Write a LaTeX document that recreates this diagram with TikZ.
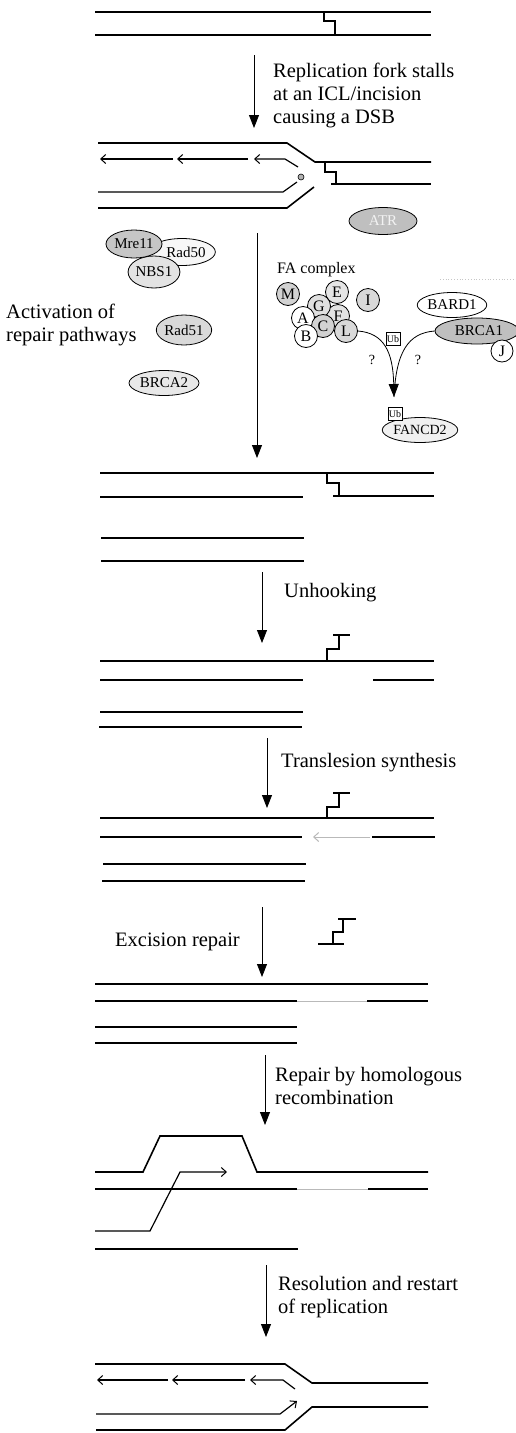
\documentclass[tikz,border=0pt]{standalone}
\usepackage{fontspec}
\setmainfont{Liberation Serif}
\usetikzlibrary{arrows.meta,shapes.geometric}

\tikzset{
  strand/.style={line width=1.6pt},
  thinstrand/.style={line width=1.2pt},
  tls/.style={line width=1pt, gray!55},
  link/.style={line width=1.1pt},
  flow/.style={line width=0.8pt, -{Triangle[length=13pt,width=10pt]}},
  barb/.style={-{Straight Barb[length=5pt,width=9pt,line width=1pt]}},
  caption/.style={font=\fontsize{20.5}{23}\selectfont, align=left, inner sep=0pt},
  prot/.style={ellipse, draw, line width=0.8pt, inner sep=0pt, font=\fontsize{15}{15}\selectfont},
  fa/.style={circle, draw, line width=0.8pt, minimum size=23pt, inner sep=0pt, font=\fontsize{16}{16}\selectfont},
  ub/.style={draw, line width=0.7pt, minimum width=14pt, minimum height=13pt, inner sep=0.5pt, fill=white, font=\fontsize{10}{10}\selectfont},
}

\begin{document}
\begin{tikzpicture}[x=1pt,y=-1pt]
\useasboundingbox (0,0) rectangle (516,1433);

% intact duplex with the crosslink
\draw[strand] (95,12) -- (431,12);
\draw[strand] (95,35) -- (431,35);
\draw[link] (324,12) -- (324,21) -- (335,21) -- (335,35);

\coordinate (s1a) at (254,55); \coordinate (s1b) at (254,128);
\draw[flow] (s1a) -- (s1b);
\node[caption, anchor=west] (t1) at (273,95) {Replication fork stalls\\at an ICL/incision\\causing a DSB};

% stalled fork
\draw[strand] (98,143) -- (287,143) -- (315,162) -- (431,162);
\draw[strand] (331,184) -- (431,184);
\draw[link] (325,162) -- (325,172) -- (336,172) -- (336,184);
\draw[thinstrand,barb] (173,159) -- (100,159);
\draw[thinstrand,barb] (248,159) -- (177,159);
\draw[thinstrand,barb] (298,167) -- (285,159) -- (254,159);
\draw[thinstrand] (98,192) -- (283,192) -- (297,182);
\draw[fill=gray!60, line width=0.6pt] (301,177) circle (3pt);
\draw[strand] (98,208) -- (287,208) -- (314,187);

% sensors and repair factors
\node[prot, fill=gray!50, text=gray!10, minimum width=68pt, minimum height=27pt] (atr) at (383,221) {ATR};
\node[prot, fill=gray!6, minimum width=50pt, minimum height=27pt] (rad50) at (182,252) {\hspace*{8pt}Rad50};
\node[prot, fill=gray!22, minimum width=50pt, minimum height=32pt] (nbs1) at (154,272) {NBS1};
\node[prot, fill=gray!45, minimum width=56pt, minimum height=28pt] (mre11) at (134,244) {Mre11};
\node[prot, fill=gray!30, minimum width=39pt, minimum height=30pt] (rad51) at (184,330) {Rad51};
\node[prot, fill=gray!18, minimum width=70pt, minimum height=25pt] (brca2) at (164,383) {BRCA2};
\node[caption, anchor=west] (t2) at (6,325) {Activation of\\repair pathways};

\coordinate (s2a) at (257,233); \coordinate (s2b) at (257,458);
\draw[flow] (s2a) -- (s2b);

% FA core complex
\node[anchor=west, inner sep=0pt, font=\fontsize{16}{16}\selectfont] (fatxt) at (277,270) {FA complex};
\node[fa, fill=gray!20] (fE) at (337,292) {E};
\node[fa, fill=gray!22] (fF) at (338,316) {F};
\node[fa, fill=gray!25] (fG) at (319,306) {G};
\node[fa, fill=white] (fA) at (303,318) {A};
\node[fa, fill=gray!35] (fC) at (323,326) {C};
\node[fa, fill=white] (fB) at (306,336) {B};
\node[fa, fill=gray!30] (fL) at (346,331) {L};
\node[fa, fill=gray!35] (fM) at (288,294) {M};
\node[fa, fill=gray!30] (fI) at (368,300) {I};
\draw[gray!45, dotted, line width=0.8pt] (440,279) -- (516,279);

\node[prot, fill=white, minimum width=56pt, minimum height=25pt] (bard1) at (452,305) {BARD1};
\node[prot, fill=gray!50, minimum width=84pt, minimum height=26pt] (brca1) at (477,331) {\hspace*{4pt}BRCA1};
\node[fa, fill=white, minimum size=22pt] (fJ) at (502,351) {J};

% monoubiquitination of FANCD2
\coordinate (ubtip) at (394,397);
\node[ub] (ub1) at (393,339) {Ub};
\draw[line width=0.8pt] (brca1.west) .. controls (408,333) and (396,352) .. (ubtip);
\draw[flow] (fL.east) .. controls (384,333) and (393,352) .. (ubtip);
\node[font=\fontsize{14}{14}\selectfont] (q1) at (372,360) {?};
\node[font=\fontsize{14}{14}\selectfont] (q2) at (418,360) {?};
\node[prot, fill=gray!12, minimum width=64pt, minimum height=25pt, font=\fontsize{14}{14}\selectfont] (fancd2) at (420,430) {FANCD2};
\node[ub] (ub2) at (395,414) {Ub};

% incised duplex and sister duplex
\draw[strand] (100,473) -- (434,473);
\draw[thinstrand] (100,497) -- (303,497);
\draw[link] (327,473) -- (327,483) -- (339,483) -- (339,496);
\draw[strand] (333,496) -- (434,496);
\draw[thinstrand] (101,538) -- (304,538);
\draw[strand] (101,561) -- (304,561);

\coordinate (s3a) at (262,572); \coordinate (s3b) at (262,643);
\draw[flow] (s3a) -- (s3b);
\node[caption, anchor=west] (t3) at (284,593) {Unhooking};

% unhooked
\draw[strand] (100,661) -- (434,661);
\draw[link] (327,661) -- (327,649) -- (339,649) -- (339,635);
\draw[link] (333,635) -- (350,635);
\draw[thinstrand] (100,680) -- (303,680);
\draw[strand] (373,680) -- (434,680);
\draw[thinstrand] (100,712) -- (303,712);
\draw[strand] (99,727) -- (302,727);

\coordinate (s4a) at (267,738); \coordinate (s4b) at (267,808);
\draw[flow] (s4a) -- (s4b);
\node[caption, anchor=west] (t4) at (281,763) {Translesion synthesis};

% translesion synthesis
\draw[strand] (100,818) -- (434,818);
\draw[link] (327,818) -- (327,807) -- (339,807) -- (339,793);
\draw[link] (333,793) -- (350,793);
\draw[thinstrand] (100,837) -- (302,837);
\draw[tls, -{Straight Barb[length=5pt,width=9pt]}] (370,837) -- (313,837);
\draw[strand] (372,837) -- (435,837);
\draw[thinstrand] (103,864) -- (306,864);
\draw[strand] (102,881) -- (305,881);

\coordinate (s5a) at (262,907); \coordinate (s5b) at (262,977);
\draw[flow] (s5a) -- (s5b);
\node[caption, anchor=east] (t5) at (240,942) {Excision repair};
\draw[link] (318,944) -- (344,944);
\draw[link] (333,944) -- (333,932) -- (343,932) -- (343,919);
\draw[link] (338,919) -- (356,919);

% after excision
\draw[strand] (95,984) -- (428,984);
\draw[thinstrand] (95,1001) -- (297,1001);
\draw[tls] (297,1001) -- (367,1001);
\draw[strand] (367,1001) -- (428,1001);
\draw[thinstrand] (95,1027) -- (297,1027);
\draw[strand] (95,1043) -- (297,1043);

\coordinate (s6a) at (265,1055); \coordinate (s6b) at (265,1125);
\draw[flow] (s6a) -- (s6b);
\node[caption, anchor=west] (t6) at (275,1086) {Repair by homologous\\recombination};

% strand invasion
\draw[strand] (95,1172) -- (143,1172) -- (160,1136) -- (242,1136) -- (257,1172) -- (428,1172);
\draw[thinstrand] (95,1189) -- (297,1189);
\draw[tls] (297,1189) -- (368,1189);
\draw[strand] (368,1189) -- (428,1189);
\draw[thinstrand, barb] (95,1231) -- (150,1231) -- (180,1172) -- (227,1172);
\draw[strand] (95,1249) -- (298,1249);

\coordinate (s7a) at (266,1265); \coordinate (s7b) at (266,1337);
\draw[flow] (s7a) -- (s7b);
\node[caption, anchor=west] (t7) at (278,1297) {Resolution and restart\\of replication};

% restarted fork
\draw[strand] (95,1364) -- (285,1364) -- (312,1383) -- (428,1383);
\draw[thinstrand,barb] (168,1380) -- (97,1380);
\draw[thinstrand,barb] (245,1380) -- (172,1380);
\draw[thinstrand,barb] (295,1389) -- (283,1380) -- (250,1380);
\draw[thinstrand,barb] (96,1414) -- (280,1414) -- (297,1401);
\draw[strand] (96,1430) -- (285,1430) -- (312,1407) -- (428,1407);
\end{tikzpicture}
\end{document}
